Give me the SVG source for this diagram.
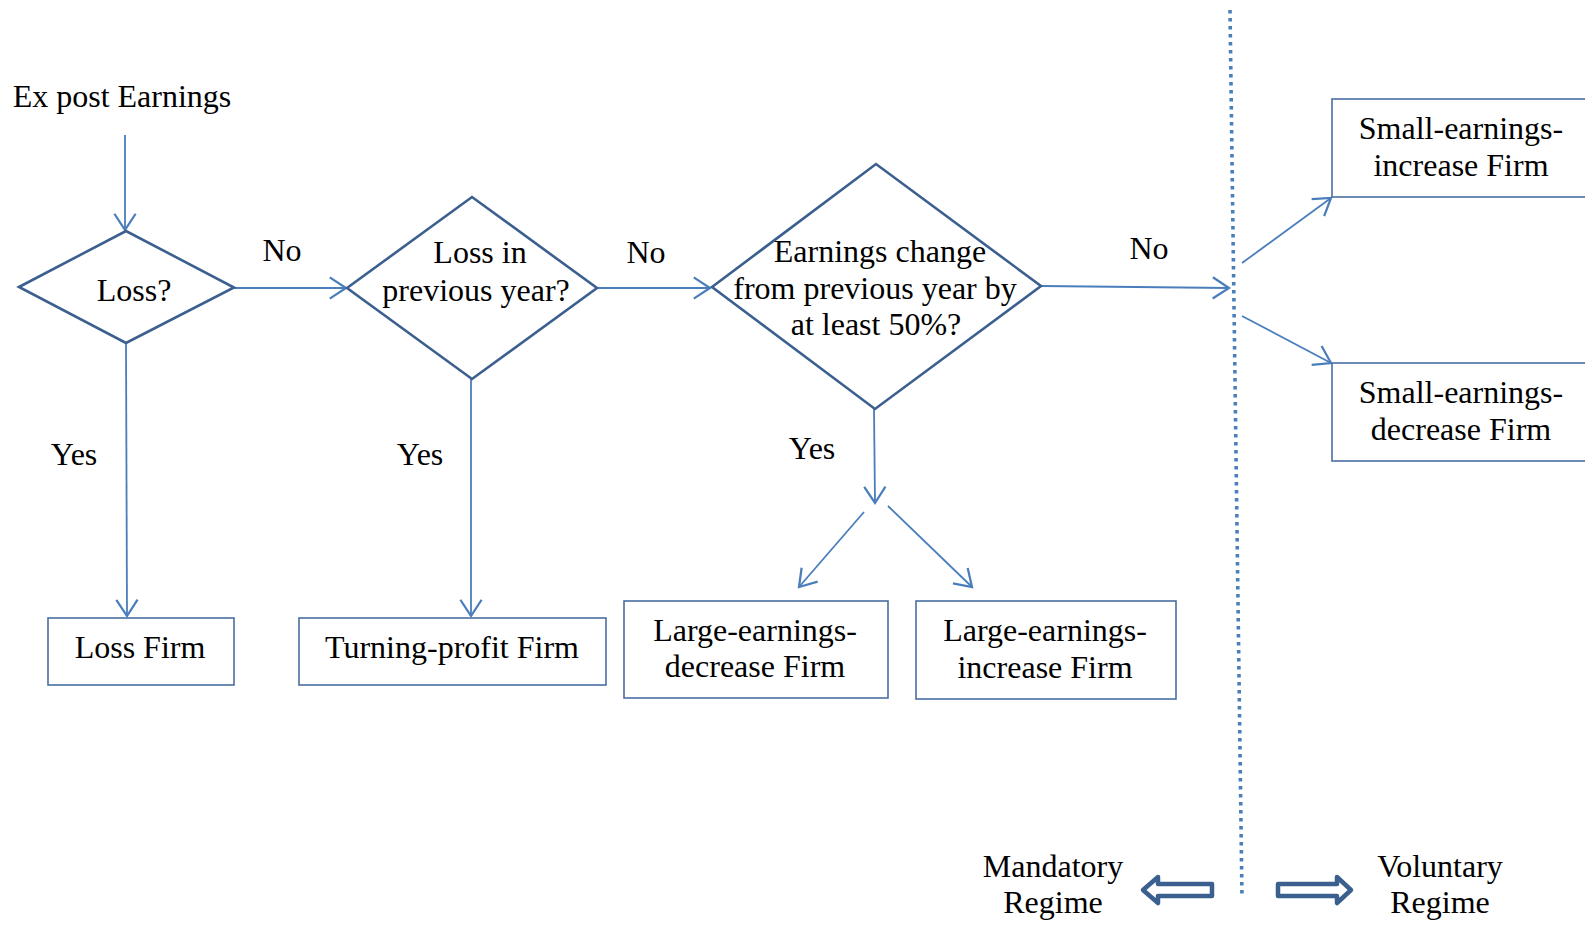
<svg xmlns="http://www.w3.org/2000/svg" width="1585" height="925" viewBox="0 0 1585 925">
<style>
text{font-family:"Liberation Serif","Times New Roman",serif;font-size:32px;fill:#000;text-anchor:middle}
.dia{fill:none;stroke:#3b5f8f;stroke-width:2.6}
.box{fill:#fff;stroke:#4a6ea0;stroke-width:1.6}
.con{fill:none;stroke:#4a7ebb;stroke-width:1.8}
.blk{fill:#fff;stroke:#3b6090;stroke-width:4.5;stroke-linejoin:round}
</style>
<defs>
<marker id="ah" markerUnits="userSpaceOnUse" markerWidth="30" markerHeight="30" viewBox="-16 -12 20 24" refX="0" refY="0" orient="auto" overflow="visible">
<path d="M-13,-8.5 L0,0 L-13,8.5" fill="none" stroke="#4a7ebb" stroke-width="1.8"/>
</marker>
</defs>
<rect width="1585" height="925" fill="#fff"/>
<g id="connectors">
<line class="con" x1="125" y1="135" x2="125" y2="230" marker-end="url(#ah)"/>
<line class="con" x1="234" y1="288" x2="346" y2="288" marker-end="url(#ah)"/>
<line class="con" x1="126" y1="343" x2="127" y2="616" marker-end="url(#ah)"/>
<line class="con" x1="597" y1="288" x2="710" y2="288" marker-end="url(#ah)"/>
<line class="con" x1="471" y1="379" x2="471" y2="616" marker-end="url(#ah)"/>
<line class="con" x1="1041" y1="286" x2="1229" y2="288" marker-end="url(#ah)"/>
<line class="con" x1="874" y1="409" x2="875" y2="503" marker-end="url(#ah)"/>
<line class="con" x1="864" y1="512" x2="799" y2="587" marker-end="url(#ah)"/>
<line class="con" x1="888" y1="506" x2="972" y2="587" marker-end="url(#ah)"/>
<line class="con" x1="1242" y1="263" x2="1331" y2="198" marker-end="url(#ah)"/>
<line class="con" x1="1242" y1="316" x2="1331" y2="363" marker-end="url(#ah)"/>
</g>
<g id="divider">
<line x1="1230" y1="10" x2="1242" y2="898" stroke="#4a7ebb" stroke-width="3.6" stroke-dasharray="3.6 4.4"/>
</g>
<g id="start"><text x="122" y="107">Ex post Earnings</text></g>
<g id="d1">
<polygon class="dia" points="19,287 126,231 234,287.5 126,343"/>
<text x="134" y="301">Loss?</text>
</g>
<g id="d2">
<polygon class="dia" points="347,288 472,197 597,288 472,379"/>
<text x="480" y="263">Loss in</text>
<text x="476" y="301">previous year?</text>
</g>
<g id="d3">
<polygon class="dia" points="712,287 876,164 1041,286 875,409"/>
<text x="880" y="262">Earnings change</text>
<text x="875" y="299">from previous year by</text>
<text x="876" y="335">at least 50%?</text>
</g>
<g id="labels">
<text x="282" y="261">No</text>
<text x="646" y="263">No</text>
<text x="1149" y="259">No</text>
<text x="74" y="465">Yes</text>
<text x="420" y="465">Yes</text>
<text x="812" y="459">Yes</text>
</g>
<g id="lossfirm">
<rect class="box" x="48" y="618" width="186" height="67"/>
<text x="140" y="658">Loss Firm</text>
</g>
<g id="turnfirm">
<rect class="box" x="299" y="618" width="307" height="67"/>
<text x="452" y="658">Turning-profit Firm</text>
</g>
<g id="ledfirm">
<rect class="box" x="624" y="601" width="264" height="97"/>
<text x="755" y="641">Large-earnings-</text>
<text x="755" y="677">decrease Firm</text>
</g>
<g id="leifirm">
<rect class="box" x="916" y="601" width="260" height="98"/>
<text x="1045" y="641">Large-earnings-</text>
<text x="1045" y="678">increase Firm</text>
</g>
<g id="seifirm">
<rect class="box" x="1332" y="99" width="260" height="98"/>
<text x="1461" y="139">Small-earnings-</text>
<text x="1461" y="176">increase Firm</text>
</g>
<g id="sedfirm">
<rect class="box" x="1332" y="363" width="260" height="98"/>
<text x="1461" y="403">Small-earnings-</text>
<text x="1461" y="440">decrease Firm</text>
</g>
<g id="mandatory">
<text x="1053" y="877">Mandatory</text>
<text x="1053" y="913">Regime</text>
<polygon class="blk" points="1212,884 1158,884 1158,877 1143,890 1158,903 1158,896 1212,896"/>
</g>
<g id="voluntary">
<text x="1440" y="877">Voluntary</text>
<text x="1440" y="913">Regime</text>
<polygon class="blk" points="1278,884 1337,884 1337,877 1351,890 1337,903 1337,896 1278,896"/>
</g>
</svg>
